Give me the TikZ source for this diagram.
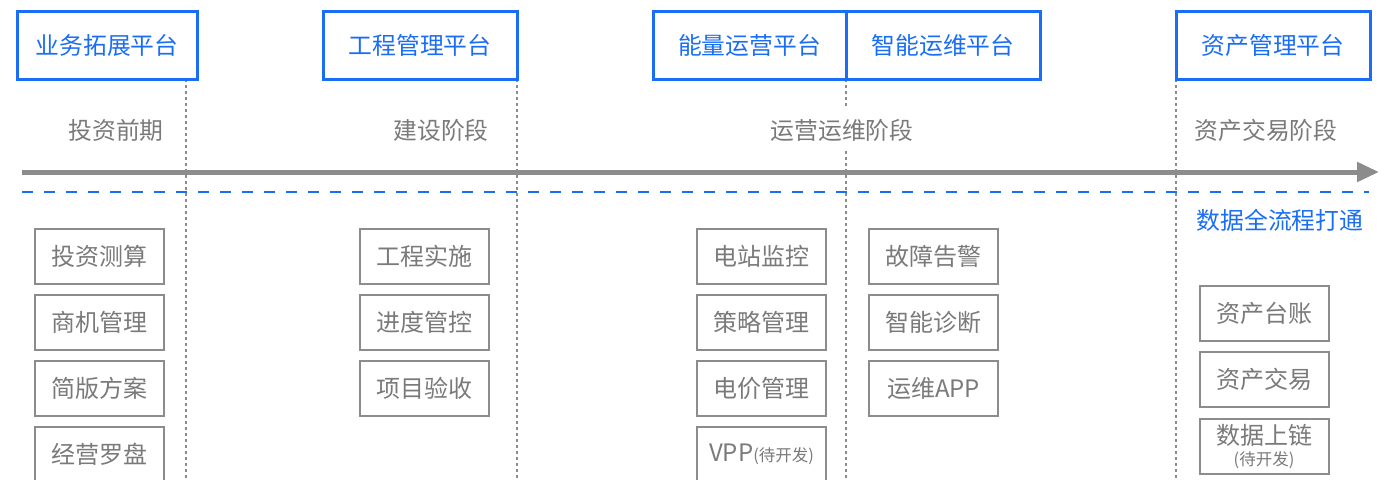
\documentclass[tikz,border=0pt]{standalone}
\usepackage{fontspec}
\setmainfont{Noto Sans CJK SC}
\usetikzlibrary{arrows.meta}
\definecolor{pblue}{HTML}{1A6EF5}
\definecolor{tgray}{HTML}{7A7A7A}
\definecolor{lgray}{HTML}{8C8C8C}
\begin{document}
\begin{tikzpicture}[x=1pt,y=-1pt,
  plat/.style={draw=pblue,line width=3pt,text=pblue,minimum height=68pt,inner sep=0pt,font=\fontsize{23.8}{28}\selectfont},
  item/.style={draw=lgray,line width=2pt,text=tgray,minimum width=129pt,minimum height=55pt,inner sep=0pt,font=\fontsize{24}{28}\selectfont},
  phase/.style={text=tgray,fill=white,inner xsep=2pt,inner ysep=10pt,font=\fontsize{23.8}{28}\selectfont},
  dotline/.style={draw=lgray,line width=2.5pt,dash pattern=on 3pt off 3pt},
]
\useasboundingbox (0,0) rectangle (1396,479);
\clip (0,0) rectangle (1396,479);
\fill[white] (0,0) rectangle (1396,479);

% vertical dotted separators
\coordinate (v1t) at (186,79);  \coordinate (v1b) at (186,479);
\coordinate (v2t) at (517,79);  \coordinate (v2b) at (517,479);
\coordinate (v3t) at (846,79);  \coordinate (v3b) at (846,479);
\coordinate (v4t) at (1176,79); \coordinate (v4b) at (1176,479);
\draw[dotline] (v1t) -- (v1b);
\draw[dotline] (v2t) -- (v2b);
\draw[dotline] (v3t) -- (v3b);
\draw[dotline] (v4t) -- (v4b);

% platforms
\node[plat,minimum width=180pt] (p1) at (107,45) {业务拓展平台};
\node[plat,minimum width=194pt] (p2) at (420,45) {工程管理平台};
\node[plat,minimum width=193pt] (p3) at (749.5,45) {能量运营平台};
\node[plat,minimum width=194pt] (p4) at (943,45) {智能运维平台};
\node[plat,minimum width=194pt] (p5) at (1273,45) {资产管理平台};

% phases
\node[phase] (s1) at (116,130) {投资前期};
\node[phase] (s2) at (441,130) {建设阶段};
\node[phase] (s3) at (842,130) {运营运维阶段};
\node[phase] (s4) at (1266,130) {资产交易阶段};

% timeline arrow
\coordinate (a0) at (22,172);
\coordinate (a1) at (1379,172);
\draw[draw=lgray,line width=5pt,-{Triangle[length=22pt,width=19pt]}] (a0) -- (a1);

% blue dashed line
\coordinate (b0) at (22,192);
\coordinate (b1) at (1369,192);
\draw[draw=pblue,line width=2.5pt,dash pattern=on 11pt off 11pt] (b0) -- (b1);

\node[text=pblue,inner sep=0pt,font=\fontsize{23.8}{28}\selectfont] (flow) at (1280,220) {数据全流程打通};

% column 1
\node[item] (c11) at (99.5,256.5) {投资测算};
\node[item] (c12) at (99.5,322.5) {商机管理};
\node[item] (c13) at (99.5,388.5) {简版方案};
\node[item] (c14) at (99.5,454.5) {经营罗盘};
% column 2
\node[item] (c21) at (424,256.5) {工程实施};
\node[item] (c22) at (424,322.5) {进度管控};
\node[item] (c23) at (424,388.5) {项目验收};
% column 3
\node[item] (c31) at (761.5,256.5) {电站监控};
\node[item] (c32) at (761.5,322.5) {策略管理};
\node[item] (c33) at (761.5,388.5) {电价管理};
\node[item] (c34) at (761.5,454.5) {VPP{\fontsize{16.5}{18}\selectfont(待开发)}};
% column 4
\node[item] (c41) at (933.5,256.5) {故障告警};
\node[item] (c42) at (933.5,322.5) {智能诊断};
\node[item] (c43) at (933.5,388.5) {运维APP};
% column 5
\node[item] (c51) at (1264,313.5) {资产台账};
\node[item] (c52) at (1264,379.5) {资产交易};
\node[item,align=center,font=\fontsize{24}{21}\selectfont] (c53) at (1264,446.5) {数据上链\\{\fontsize{16.5}{16.5}\selectfont(待开发)}};
\end{tikzpicture}
\end{document}
